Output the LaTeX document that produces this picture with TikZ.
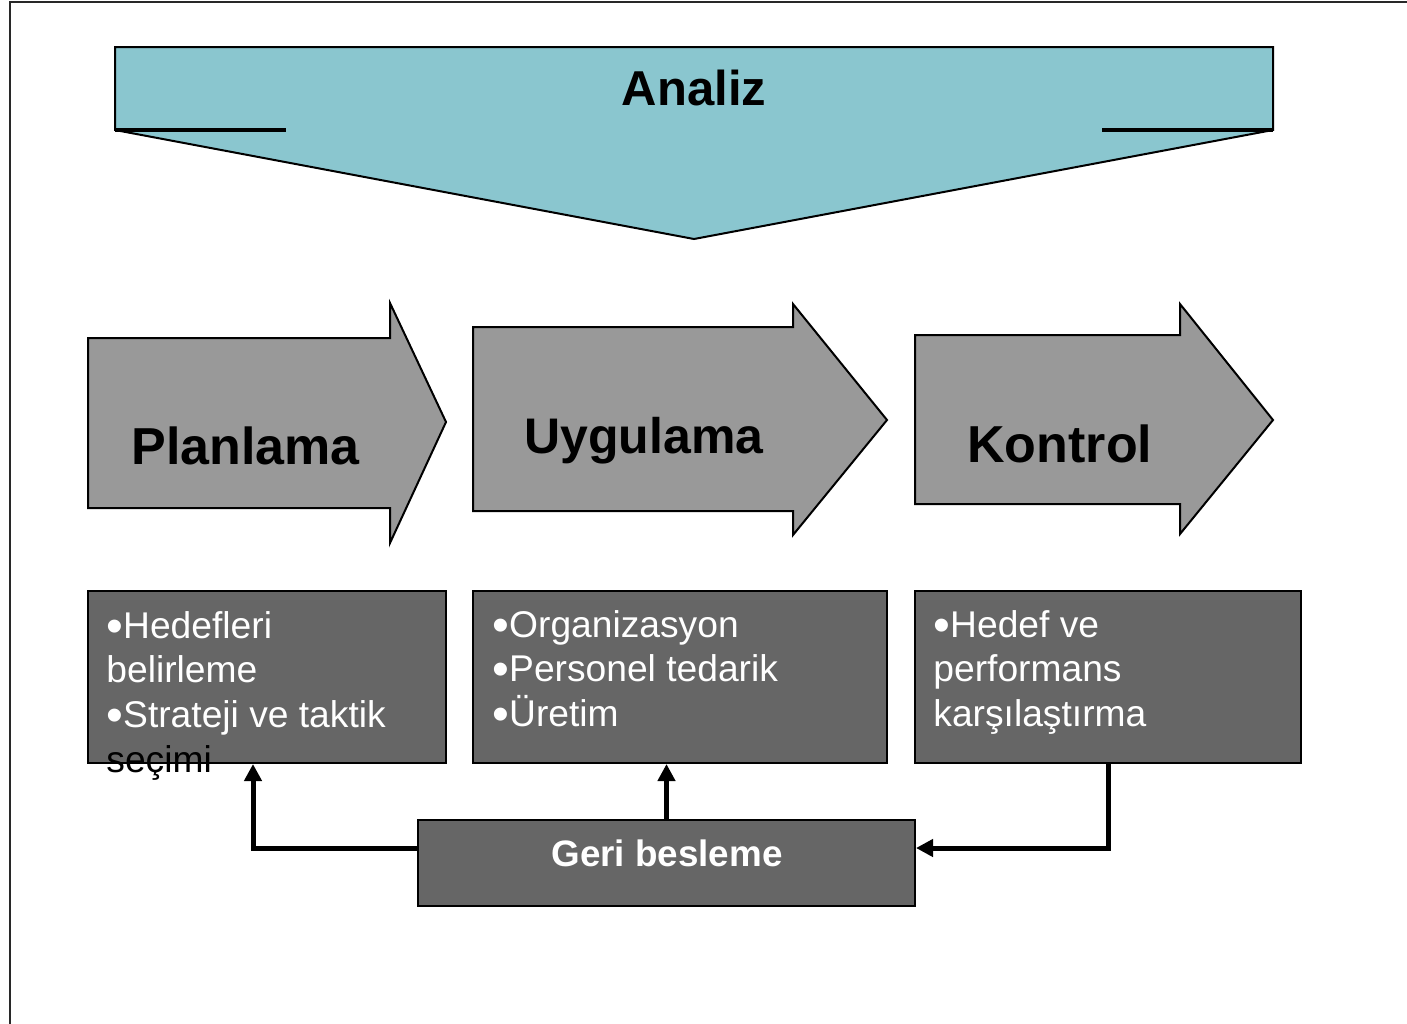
\documentclass[tikz,border=0pt]{standalone}
\usepackage{fontspec}
\setmainfont{Liberation Sans}
\usetikzlibrary{arrows.meta,fit}
\definecolor{teal1}{RGB}{138,198,207}
\definecolor{arrowgray}{RGB}{153,153,153}
\definecolor{boxgray}{RGB}{102,102,102}
\definecolor{framegray}{RGB}{40,40,40}
\newcommand\bodylines[1]{\begin{tabular}[t]{@{}l@{}}#1\end{tabular}}
\newcommand\bul{\smash{\raisebox{-2pt}{\fontsize{24}{22}\selectfont •}}}
\tikzset{
  shapeline/.style={draw=black, line width=1pt},
  bigarrow/.style={shapeline, fill=arrowgray},
  darkbox/.style={shapeline, fill=boxgray, inner sep=0pt},
  bigtitle/.style={font=\fontsize{26}{30}\selectfont\bfseries, anchor=base west, inner sep=0pt},
  bodytext/.style={font=\fontsize{18.6}{22.4}\selectfont, text=white, anchor=base west, inner sep=0pt},
  fb/.style={line width=2.5pt, -{Triangle[width=8.5pt,length=8.5pt]}},
}
\begin{document}
\begin{tikzpicture}[x=0.5pt, y=-0.5pt]
\useasboundingbox (0,0) rectangle (1407,1023);
% frame
\draw[framegray, line width=1pt] (10,1030) -- (10,1.5) -- (1420,1.5);
% Analiz banner
\path[shapeline, fill=teal1, line join=miter] (115,47) -- (1273,47) -- (1273,130) -- (694,239) -- (115,130) -- cycle;
\draw[line width=2pt] (115,130) -- (286,130);
\draw[line width=2pt] (1102,130) -- (1273,130);
\node (analiz) [font=\fontsize{24.5}{28}\selectfont\bfseries, anchor=base, inner sep=0pt] at (694,105) {Analiz};
% big arrows
\path[bigarrow] (88,338) -- (390,338) -- (390,303) -- (446,422) -- (390,543) -- (390,508) -- (88,508) -- cycle;
\path[bigarrow] (473,327) -- (793,327) -- (793,304) -- (887,420) -- (793,535) -- (793,511) -- (473,511) -- cycle;
\path[bigarrow] (915,335) -- (1180,335) -- (1180,304) -- (1273,420) -- (1180,534) -- (1180,504) -- (915,504) -- cycle;
\node (plan) [bigtitle] at (131,464) {Planlama};
\node (uyg) [bigtitle, font=\fontsize{25}{30}\selectfont\bfseries] at (524,453) {Uygulama};
\node (kont) [bigtitle] at (967,462) {Kontrol};
% boxes
\node (b1) [darkbox, fit={(88,591) (446,763)}] {};
\node (b2) [darkbox, fit={(473,591) (887,763)}] {};
\node (b3) [darkbox, fit={(915,591) (1301,763)}] {};
\node (t1) [bodytext] at (106,638) {\bodylines{\bul Hedefleri\\belirleme\\\bul Strateji ve taktik\\\textcolor{black}{seçimi}}};
\node (t2) [bodytext] at (492,637) {\bodylines{\bul Organizasyon\\\bul Personel tedarik\\\bul Üretim}};
\node (t3) [bodytext] at (933,637) {\bodylines{\bul Hedef ve\\performans\\karşılaştırma}};
% feedback
\node (geri) [darkbox, fit={(418,820) (915,906)}] {};
\node (gerit) [font=\fontsize{18.4}{22}\selectfont\bfseries, text=white, anchor=base, inner sep=0pt] at (667,866) {Geri besleme};
\coordinate (fy) at (0,848);
\coordinate (x1) at (253,0);
\coordinate (x3) at (1108,0);
\draw[fb] (geri.west |- fy) -| (b1.south -| x1);
\draw[fb] (geri.north) -- (geri.north |- b2.south);
\draw[fb] (b3.south -| x3) |- (geri.east |- fy);
\end{tikzpicture}
\end{document}
